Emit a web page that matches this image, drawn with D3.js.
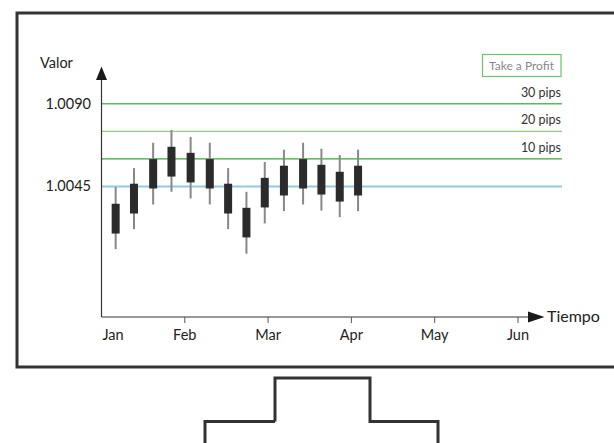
<!DOCTYPE html>
<html>
<head>
<meta charset="utf-8">
<script src="https://cdn.jsdelivr.net/npm/d3@7"></script>
<style>
  body { margin: 0; background: #fff; }
  text { font-family: Lato, "Open Sans", sans-serif; }
</style>
</head>
<body>
<figure style="margin:0"></figure>
<script>
const width = 614
const height = 443

// month labels along the time axis
const months = ['Jan', 'Feb', 'Mar', 'Apr', 'May', 'Jun']

// weekly candles, position given in months from Jan
const weeks = [0.17, 0.39, 0.62, 0.84, 1.07, 1.30, 1.52, 1.74, 1.96, 2.19, 2.42, 2.64, 2.86, 3.08]
const opens = [1.00194, 1.00303, 1.00439, 1.00504, 1.00633, 1.00599, 1.00465, 1.00334, 1.00336, 1.00401, 1.00439, 1.00406, 1.00530, 1.00401]
const closes = [1.00356, 1.00465, 1.00599, 1.00666, 1.00472, 1.00439, 1.00303, 1.00173, 1.00497, 1.00563, 1.00599, 1.00568, 1.00368, 1.00563]
const highs = [1.00447, 1.00550, 1.00688, 1.00757, 1.00720, 1.00688, 1.00550, 1.00421, 1.00583, 1.00650, 1.00688, 1.00655, 1.00621, 1.00650]
const lows = [1.00109, 1.00218, 1.00352, 1.00421, 1.00385, 1.00352, 1.00218, 1.00084, 1.00249, 1.00316, 1.00352, 1.00319, 1.00283, 1.00316]

// take profit levels
const levelNames = ['30 pips', '20 pips', '10 pips']
const levelValues = [1.0090, 1.0075, 1.0060]
const levelColors = ['#5cb85c', '#8fd080', '#3aa63a']
const entryValue = 1.0045
const yTicks = [1.0090, 1.0045]

const svg = d3.select('figure').append('svg')
  .attr('width', width)
  .attr('height', height)

// monitor frame
svg.append('rect')
  .attr('x', 17).attr('y', 13)
  .attr('width', 620).attr('height', 354)
  .attr('fill', 'none')
  .attr('stroke', '#333')
  .attr('stroke-width', 3)

// stand
const stand = [[275, 421.5], [275, 378], [370, 378], [370, 421.5], [438, 421.5], [438, 450], [205, 450], [205, 421.5], [275, 421.5]]
svg.append('path')
  .attr('d', d3.line()(stand))
  .attr('fill', 'none')
  .attr('stroke', '#333')
  .attr('stroke-width', 3)

// Scales
const x = d3.scaleLinear().domain([0, 5]).range([101.5, 518])
const y = d3.scaleLinear().domain([0.9974, 1.0110]).range([317, 67])

const x0 = x(0)
const xEnd = 562

// level lines
svg.append('line')
  .attr('x1', x0).attr('x2', xEnd)
  .attr('y1', y(entryValue)).attr('y2', y(entryValue))
  .attr('stroke', '#8ecae6').attr('stroke-width', 2)

svg.selectAll('.level')
  .data(levelValues)
  .join('line')
    .attr('class', 'level')
    .attr('x1', x0).attr('x2', xEnd)
    .attr('y1', d => y(d)).attr('y2', d => y(d))
    .attr('stroke', (d, i) => levelColors[i])
    .attr('stroke-width', 1.3)

svg.selectAll('.levelLabel')
  .data(levelValues)
  .join('text')
    .attr('class', 'levelLabel')
    .attr('x', xEnd - 1)
    .attr('y', d => y(d) - 7)
    .attr('text-anchor', 'end')
    .style('font-size', '12.5px')
    .style('fill', '#333')
    .text((d, i) => levelNames[i])

// Take a Profit box
svg.append('rect')
  .attr('x', 482.5).attr('y', 54.5)
  .attr('width', 78.5).attr('height', 22)
  .attr('fill', '#fff')
  .attr('stroke', '#6cc36c')
  .attr('stroke-width', 1.2)
svg.append('text')
  .attr('x', 521.5).attr('y', 70)
  .attr('text-anchor', 'middle')
  .style('font-size', '12px')
  .style('fill', '#888')
  .text('Take a Profit')

// candles
const idx = d3.range(weeks.length)
svg.selectAll('.wick')
  .data(idx)
  .join('line')
    .attr('class', 'wick')
    .attr('x1', i => x(weeks[i])).attr('x2', i => x(weeks[i]))
    .attr('y1', i => y(highs[i])).attr('y2', i => y(lows[i]))
    .attr('stroke', '#888')
    .attr('stroke-width', 2)

svg.selectAll('.body')
  .data(idx)
  .join('rect')
    .attr('class', 'body')
    .attr('x', i => x(weeks[i]) - 4)
    .attr('width', 8)
    .attr('y', i => y(Math.max(opens[i], closes[i])))
    .attr('height', i => Math.abs(y(opens[i]) - y(closes[i])))
    .attr('fill', '#2b2b2b')

// y axis with arrow
svg.append('line')
  .attr('x1', x0).attr('x2', x0)
  .attr('y1', 78).attr('y2', 317)
  .attr('stroke', '#333').attr('stroke-width', 1.2)
svg.append('path')
  .attr('d', d3.line()([[x0 - 5.5, 80], [x0, 66.5], [x0 + 5.5, 80]]) + 'Z')
  .attr('fill', '#1a1a1a')

svg.selectAll('.ytick')
  .data(yTicks)
  .join('text')
    .attr('class', 'ytick')
    .attr('x', 91)
    .attr('y', d => y(d) + 5)
    .attr('text-anchor', 'end')
    .style('font-size', '14.5px')
    .style('fill', '#222')
    .text(d => d3.format('.4f')(d))

svg.append('text')
  .attr('x', 40).attr('y', 68)
  .style('font-size', '14.5px')
  .style('fill', '#222')
  .text('Valor')

// x axis with arrow
svg.append('line')
  .attr('x1', x0).attr('x2', 530)
  .attr('y1', 317).attr('y2', 317)
  .attr('stroke', '#333').attr('stroke-width', 1.2)
svg.append('path')
  .attr('d', d3.line()([[528, 311.5], [544.5, 317], [528, 322.5]]) + 'Z')
  .attr('fill', '#1a1a1a')

svg.selectAll('.xtickmark')
  .data(months.slice(1))
  .join('line')
    .attr('class', 'xtickmark')
    .attr('x1', (d, i) => x(i + 1)).attr('x2', (d, i) => x(i + 1))
    .attr('y1', 317).attr('y2', 323)
    .attr('stroke', '#555').attr('stroke-width', 1)

svg.selectAll('.xtick')
  .data(months)
  .join('text')
    .attr('class', 'xtick')
    .attr('x', (d, i) => i === 0 ? x0 + 1 : x(i))
    .attr('y', 340)
    .attr('text-anchor', (d, i) => i === 0 ? 'start' : 'middle')
    .style('font-size', '14.5px')
    .style('fill', '#222')
    .text(d => d)

svg.append('text')
  .attr('x', 547).attr('y', 322)
  .style('font-size', '16px')
  .style('fill', '#222')
  .text('Tiempo')
</script>
</body>
</html>
